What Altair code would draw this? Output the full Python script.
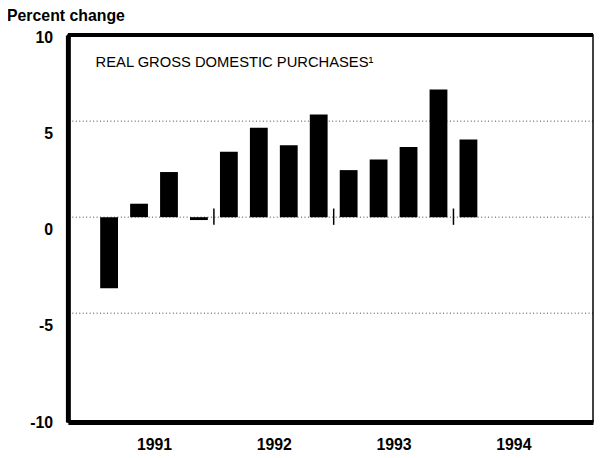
import altair as alt
import pandas as pd

# ---- data ----
quarters = ["1991Q1", "1991Q2", "1991Q3", "1991Q4",
            "1992Q1", "1992Q2", "1992Q3", "1992Q4",
            "1993Q1", "1993Q2", "1993Q3", "1993Q4",
            "1994Q1"]
values = [-3.7, 0.7, 2.35, -0.15, 3.4, 4.65, 3.75, 5.35, 2.45, 3.0, 3.65, 6.65, 4.05]
year_labels = [1991, 1992, 1993, 1994]
year_separators = [1992, 1993, 1994]
y_tick_labels = [10, 5, 0, -5, -10]
grid_values = [5, 0, -5]
title_text = "REAL GROSS DOMESTIC PURCHASES\u00b9"
y_title = "Percent change"

# quarter centre positions on a continuous time axis
qpos = [int(q[:4]) + (int(q[-1]) - 0.5) / 4 for q in quarters]
bars_df = pd.DataFrame({"t": qpos, "v": values, "q": quarters})
sep_df = pd.DataFrame({"t": year_separators, "a": [0.45] * 3, "b": [-0.4] * 3})
grid_df = pd.DataFrame({"v": grid_values})
ytick_df = pd.DataFrame({"v": y_tick_labels, "s": [str(v) for v in y_tick_labels]})

X_DOM = [1990.781, 1995.165]
Y_DOM = [-10.67, 9.485]
FONT = "Liberation Sans"

xs = alt.Scale(domain=X_DOM, nice=False, zero=False, padding=0)
ys = alt.Scale(domain=Y_DOM, nice=False, zero=False, padding=0)

bars = alt.Chart(bars_df).mark_bar(size=18, color="black").encode(
    x=alt.X("t:Q", scale=xs, axis=alt.Axis(
        values=[y + 0.5 for y in year_labels], labelExpr="floor(datum.value)",
        ticks=False, grid=False, domain=True, domainWidth=5, domainColor="black",
        labelFont=FONT, labelFontSize=16, labelFontWeight="bold", labelColor="black",
        labelPadding=15, labelFlush=False, title=None)),
    y=alt.Y("v:Q", scale=ys, axis=alt.Axis(
        labels=False, ticks=False, grid=False, domain=True, domainWidth=5,
        domainColor="black", title=None)),
)

grid = alt.Chart(grid_df).mark_rule(color="black", strokeWidth=1, strokeDash=[1, 2.5], opacity=0.75).encode(
    y=alt.Y("v:Q", scale=ys)
)

seps = alt.Chart(sep_df).mark_rule(color="black", strokeWidth=1.5).encode(
    x=alt.X("t:Q", scale=xs),
    y=alt.Y("a:Q", scale=ys),
    y2="b:Q",
)

top_rule = alt.Chart(pd.DataFrame({"v": [Y_DOM[1]]})).mark_rule(color="black", strokeWidth=4).encode(
    y=alt.Y("v:Q", scale=ys)
)

ylabels = alt.Chart(ytick_df).mark_text(
    align="right", baseline="middle", dy=13.5, font=FONT, fontSize=16,
    fontWeight="bold", color="black"
).encode(y=alt.Y("v:Q", scale=ys), text="s:N", x=alt.value(-15))

inner_title = alt.Chart(pd.DataFrame({"s": [title_text]})).mark_text(
    align="left", baseline="alphabetic", font=FONT,
    fontSize=14.9, color="black"
).encode(text="s:N", x=alt.value(28), y=alt.value(32))

ylab_title = alt.Chart(pd.DataFrame({"s": [y_title]})).mark_text(
    align="left", baseline="alphabetic", font=FONT, fontSize=16, fontWeight="bold", color="black"
).encode(text="s:N", x=alt.value(-61.5), y=alt.value(-14))

chart = alt.layer(grid, bars, seps, top_rule, ylabels, inner_title, ylab_title).properties(
    width=530.5, height=391,
    autosize=alt.AutoSizeParams(type="none"),
    padding={"left": 60.5, "top": 25, "right": 1, "bottom": 33},
    background="white",
).configure_view(stroke="black", strokeWidth=1.5)

chart.save("out.html", embed_options={"renderer": "svg", "actions": False})
